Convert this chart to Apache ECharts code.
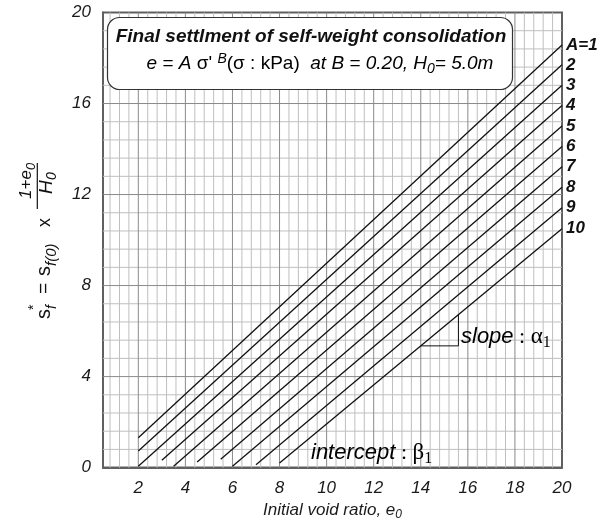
<!DOCTYPE html>
<html>
<head>
<meta charset="utf-8">
<script src="https://cdn.jsdelivr.net/npm/echarts@6/dist/echarts.min.js"></script>
<style>
  html, body { margin: 0; padding: 0; background: #fff; }
  #chart { width: 601px; height: 526px; }
</style>
</head>
<body>
<div id="chart"></div>
<script>
// Settlement curves, one per coefficient A (e = A σ'^B, B = 0.20, H0 = 5.0 m)
const curveNames = ['A=1', '2', '3', '4', '5', '6', '7', '8', '9', '10'];
const startVoidRatio  = [2, 2, 2, 3, 3.5, 4.5, 5.5, 6, 7, 8];
const startSettlement = [1.31, 0.73, 0.06, 0.32, 0.06, 0.25, 0.37, 0.06, 0.13, 0.20];
const endVoidRatio    = [20, 20, 20, 20, 20, 20, 20, 20, 20, 20];
const endSettlement   = [18.57, 17.70, 16.80, 15.91, 15.01, 14.11, 13.22, 12.32, 11.42, 10.50];

// Axis tick labels
const xTickLabels = [2, 4, 6, 8, 10, 12, 14, 16, 18, 20];
const yTickLabels = [0, 4, 8, 12, 16, 20];

const X_MIN = 0.5, X_MAX = 20, Y_MIN = 0, Y_MAX = 20;
const SANS = '"Liberation Sans", Arial, Helvetica, sans-serif';
const SERIF = '"Liberation Serif", "Times New Roman", serif';
const INK = '#111';

// point on curve i at void ratio e (used to place the slope triangle on the curve)
function settlementAt(i, e) {
  const x0 = startVoidRatio[i], y0 = startSettlement[i];
  const x1 = endVoidRatio[i], y1 = endSettlement[i];
  return y0 + (y1 - y0) * (e - x0) / (x1 - x0);
}

const curveSeries = curveNames.map((name, i) => ({
  type: 'line',
  name: name,
  data: [[startVoidRatio[i], startSettlement[i]], [endVoidRatio[i], endSettlement[i]]],
  symbol: 'none',
  silent: true,
  z: 3,
  lineStyle: { color: INK, width: 1.3 },
  endLabel: {
    show: true,
    formatter: '{a}',
    color: INK,
    fontSize: 17,
    fontWeight: 'bold',
    fontStyle: 'italic',
    fontFamily: SANS,
    distance: 4
  }
}));

// slope triangle hanging off the A=10 curve
const triCurve = 9;
const triLeft = 14.0, triRight = 15.6;
const triLow = settlementAt(triCurve, triLeft);
const triHigh = settlementAt(triCurve, triRight);
const triangleSeries = {
  type: 'line',
  data: [[triLeft, triLow], [triRight, triLow], [triRight, triHigh]],
  symbol: 'none',
  silent: true,
  z: 3,
  lineStyle: { color: INK, width: 1 }
};

// graph-paper grid: minor every 0.4 (x) / 0.8 (y), major at the labelled values
const gridSeries = {
  type: 'custom',
  silent: true,
  z: 1,
  clip: false,
  data: [[X_MIN, Y_MIN]],
  renderItem: function (params, api) {
    const minor = [], major = [];
    const seg = (a, b, isMajor) => {
      const p = api.coord(a), q = api.coord(b);
      (isMajor ? major : minor).push({
        type: 'line',
        shape: { x1: p[0], y1: p[1], x2: q[0], y2: q[1] },
        style: { stroke: isMajor ? '#8a8a8a' : '#bfbfbf', lineWidth: 1 }
      });
    };
    for (let k = 2; k <= 49; k++) {
      const x = k * 0.4;
      seg([x, Y_MIN], [x, Y_MAX], k % 5 === 0);
    }
    for (let k = 1; k <= 24; k++) {
      const y = k * 0.8;
      seg([X_MIN, y], [X_MAX, y], k % 5 === 0);
    }
    return { type: 'group', children: minor.concat(major) };
  }
};

// pieces of the rotated y-axis title  s_f* = s_f(0) x (1+e0)/H0
function yTitlePiece(text, lx, ly, size, italic, align) {
  return {
    type: 'text',
    x: lx, y: ly,
    style: {
      text: text,
      font: (italic ? 'italic ' : '') + size + 'px ' + SANS,
      fill: INK,
      align: align || 'left',
      verticalAlign: 'middle'
    }
  };
}

const yTitle = {
  type: 'group',
  x: 47, y: 330,
  rotation: Math.PI / 2,
  z: 50,
  children: [
    yTitlePiece('s', 11, -3, 20, false),
    yTitlePiece('*', 20, -13, 14, false),
    yTitlePiece('f', 21, 5, 14, true),
    yTitlePiece('=', 36, -3, 19, false),
    yTitlePiece('s', 54, -3, 20, false),
    yTitlePiece('f(0)', 64, 5, 15, true),
    yTitlePiece('x', 103, -2, 18, false),
    yTitlePiece('1+e', 131, -21, 17, true),
    yTitlePiece('0', 160, -16, 13, true),
    yTitlePiece('H', 136, 0, 19, true),
    yTitlePiece('0', 150, 5, 14, true),
    {
      type: 'line',
      shape: { x1: 121, y1: -9.7, x2: 167, y2: -9.7 },
      style: { stroke: INK, lineWidth: 1.2 }
    }
  ]
};

const richBase = {
  i:   { fontFamily: SANS, fontStyle: 'italic', fontSize: 19, lineHeight: 24, color: INK },
  n:   { fontFamily: SANS, fontSize: 19, lineHeight: 24, color: INK },
  sup: { fontFamily: SANS, fontStyle: 'italic', fontSize: 14, lineHeight: 13, verticalAlign: 'top', color: INK },
  sub: { fontFamily: SANS, fontStyle: 'italic', fontSize: 14, lineHeight: 13, verticalAlign: 'bottom', color: INK },
  g:   { fontFamily: SERIF, fontSize: 23, lineHeight: 28, color: INK },
  c:   { fontFamily: SERIF, fontSize: 22, lineHeight: 28, color: INK },
  gsub:{ fontFamily: SERIF, fontSize: 16, lineHeight: 15, verticalAlign: 'bottom', color: INK },
  big: { fontFamily: SANS, fontStyle: 'italic', fontSize: 22, lineHeight: 28, color: INK }
};

const option = {
  animation: false,
  backgroundColor: '#fff',
  grid: {
    left: 103, right: 39, top: 12.5, bottom: 55.5,
    show: true, borderColor: '#606060', borderWidth: 2, backgroundColor: 'transparent'
  },
  xAxis: {
    type: 'value',
    min: X_MIN, max: X_MAX,
    splitLine: { show: false },
    axisTick: { show: false },
    axisLine: { lineStyle: { color: '#606060', width: 2 } },
    axisLabel: {
      customValues: xTickLabels,
      fontFamily: SANS, fontStyle: 'italic', fontSize: 17, color: '#1a1a1a', margin: 12
    },
    name: '{m|Initial void ratio, e}{s|0}',
    nameLocation: 'middle',
    nameGap: 30,
    nameTextStyle: {
      rich: {
        m: { fontFamily: SANS, fontStyle: 'italic', fontSize: 17, lineHeight: 22, color: '#1a1a1a' },
        s: { fontFamily: SANS, fontStyle: 'italic', fontSize: 12, lineHeight: 11, verticalAlign: 'bottom', color: '#1a1a1a' }
      }
    }
  },
  yAxis: {
    type: 'value',
    min: Y_MIN, max: Y_MAX, interval: 4,
    splitLine: { show: false },
    axisTick: { show: false },
    axisLine: { lineStyle: { color: '#606060', width: 2 } },
    axisLabel: {
      customValues: yTickLabels,
      fontFamily: SANS, fontStyle: 'italic', fontSize: 17, color: '#1a1a1a', margin: 12
    }
  },
  series: [gridSeries].concat(curveSeries, [triangleSeries]),
  graphic: [
    {
      type: 'rect', z: 100,
      shape: { x: 107.5, y: 17.5, width: 405, height: 72, r: 12 },
      style: { fill: '#fff', stroke: '#333', lineWidth: 1.2 }
    },
    {
      type: 'text', z: 101, x: 311, y: 37,
      style: {
        text: 'Final settlment of self-weight consolidation',
        font: 'italic bold 19px ' + SANS, fill: INK,
        align: 'center', verticalAlign: 'middle'
      }
    },
    {
      type: 'text', z: 101, x: 320, y: 64,
      style: {
        text: "{i|e} {n|=} {i|A} {n|σ' }{sup|B}{n|(σ : kPa)}  {i|at B = 0.20, H}{sub|0}{i|= 5.0m}",
        font: '19px ' + SANS,
        align: 'center', verticalAlign: 'middle',
        rich: richBase
      }
    },
    {
      type: 'text', z: 101, x: 461, y: 337,
      style: {
        text: '{big|slope}{c| : }{g|α}{gsub|1}',
        font: '22px ' + SANS,
        align: 'left', verticalAlign: 'middle',
        rich: richBase
      }
    },
    {
      type: 'text', z: 101, x: 311, y: 453,
      style: {
        text: '{big|intercept}{c| : }{g|β}{gsub|1}',
        font: '22px ' + SANS,
        align: 'left', verticalAlign: 'middle',
        rich: richBase
      }
    },
    yTitle
  ]
};

const chart = echarts.init(document.getElementById('chart'));
chart.setOption(option);
</script>
</body>
</html>
